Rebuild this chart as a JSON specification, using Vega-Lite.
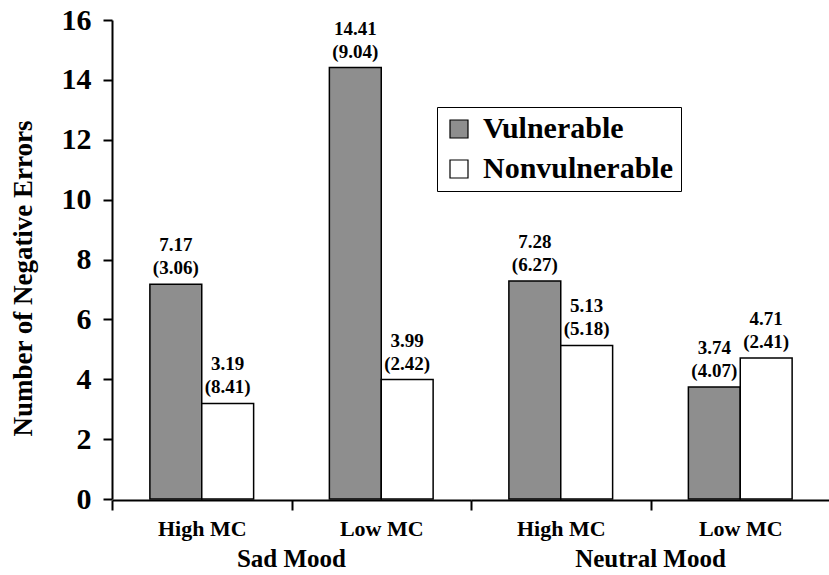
{
  "$schema": "https://vega.github.io/schema/vega-lite/v6.json",
  "padding": {"left": 9, "top": 5, "right": 0, "bottom": 0},
  "background": "white",
  "data": {"values": [
    {"mood": "Sad Mood", "mc": "High MC", "group": "Vulnerable", "mean": 7.17, "sd": "(3.06)"},
    {"mood": "Sad Mood", "mc": "High MC", "group": "Nonvulnerable", "mean": 3.19, "sd": "(8.41)"},
    {"mood": "Sad Mood", "mc": "Low MC", "group": "Vulnerable", "mean": 14.41, "sd": "(9.04)"},
    {"mood": "Sad Mood", "mc": "Low MC", "group": "Nonvulnerable", "mean": 3.99, "sd": "(2.42)"},
    {"mood": "Neutral Mood", "mc": "High MC", "group": "Vulnerable", "mean": 7.28, "sd": "(6.27)"},
    {"mood": "Neutral Mood", "mc": "High MC", "group": "Nonvulnerable", "mean": 5.13, "sd": "(5.18)"},
    {"mood": "Neutral Mood", "mc": "Low MC", "group": "Vulnerable", "mean": 3.74, "sd": "(4.07)"},
    {"mood": "Neutral Mood", "mc": "Low MC", "group": "Nonvulnerable", "mean": 4.71, "sd": "(2.41)"}
  ]},
  "facet": {
    "column": {
      "field": "mood", "type": "nominal", "sort": ["Sad Mood", "Neutral Mood"],
      "header": {
        "title": null, "labelOrient": "bottom", "labelFont": "Liberation Serif",
        "labelFontSize": 25, "labelFontWeight": "bold", "labelColor": "black", "labelPadding": 8
      }
    }
  },
  "spacing": 0,
  "spec": {
    "width": 359,
    "height": 479,
    "encoding": {
      "x": {
        "field": "mc", "type": "nominal", "sort": ["High MC", "Low MC"],
        "scale": {"paddingInner": 0, "paddingOuter": 0},
        "axis": {
          "title": null, "labelAngle": 0, "domainColor": "black", "domainWidth": 2,
          "tickColor": "black", "tickWidth": 2, "tickSize": 10,
          "tickOffset": -89.75, "labelOffset": 89.75,
          "labelFont": "Liberation Serif", "labelFontSize": 22, "labelFontWeight": "bold",
          "labelColor": "black", "labelPadding": 8
        }
      },
      "xOffset": {
        "field": "group", "type": "nominal", "sort": ["Vulnerable", "Nonvulnerable"],
        "scale": {"paddingInner": 0, "paddingOuter": 0.73}
      },
      "y": {
        "field": "mean", "type": "quantitative",
        "scale": {"domain": [0, 16], "nice": false},
        "axis": {
          "title": "Number of Negative Errors", "values": [0, 2, 4, 6, 8, 10, 12, 14, 16],
          "grid": false, "domainColor": "black", "domainWidth": 2,
          "tickColor": "black", "tickWidth": 2, "tickSize": 9,
          "labelFont": "Liberation Serif", "labelFontSize": 30, "labelFontWeight": "bold",
          "labelColor": "black", "labelPadding": 12,
          "titleFont": "Liberation Serif", "titleFontSize": 27, "titleFontWeight": "bold",
          "titleColor": "black", "titlePadding": 24, "titleY": 258
        }
      }
    },
    "layer": [
      {
        "mark": {"type": "bar", "stroke": "black", "strokeWidth": 1.5},
        "encoding": {
          "color": {
            "field": "group", "type": "nominal",
            "scale": {"domain": ["Vulnerable", "Nonvulnerable"], "range": ["#8e8e8e", "#ffffff"]},
            "legend": {
              "title": null, "orient": "none", "legendX": 325, "legendY": 87,
              "strokeColor": "black", "fillColor": "white", "padding": 7,
              "symbolType": "square", "symbolSize": 324, "symbolStrokeColor": "black",
              "symbolStrokeWidth": 1.2, "symbolOpacity": 1,
              "labelFont": "Liberation Serif", "labelFontSize": 30, "labelFontWeight": "bold",
              "labelColor": "black", "labelOffset": 9, "rowPadding": 10, "labelLimit": 400
            }
          }
        }
      },
      {
        "mark": {"type": "text", "dy": -10, "baseline": "alphabetic", "font": "Liberation Serif", "fontSize": 19, "fontWeight": "bold", "color": "black"},
        "encoding": {"text": {"field": "sd", "type": "nominal"}}
      },
      {
        "mark": {"type": "text", "dy": -33, "baseline": "alphabetic", "font": "Liberation Serif", "fontSize": 19, "fontWeight": "bold", "color": "black"},
        "encoding": {"text": {"field": "mean", "type": "quantitative", "format": ".2f"}}
      }
    ]
  },
  "config": {"view": {"stroke": null}, "font": "Liberation Serif"}
}
